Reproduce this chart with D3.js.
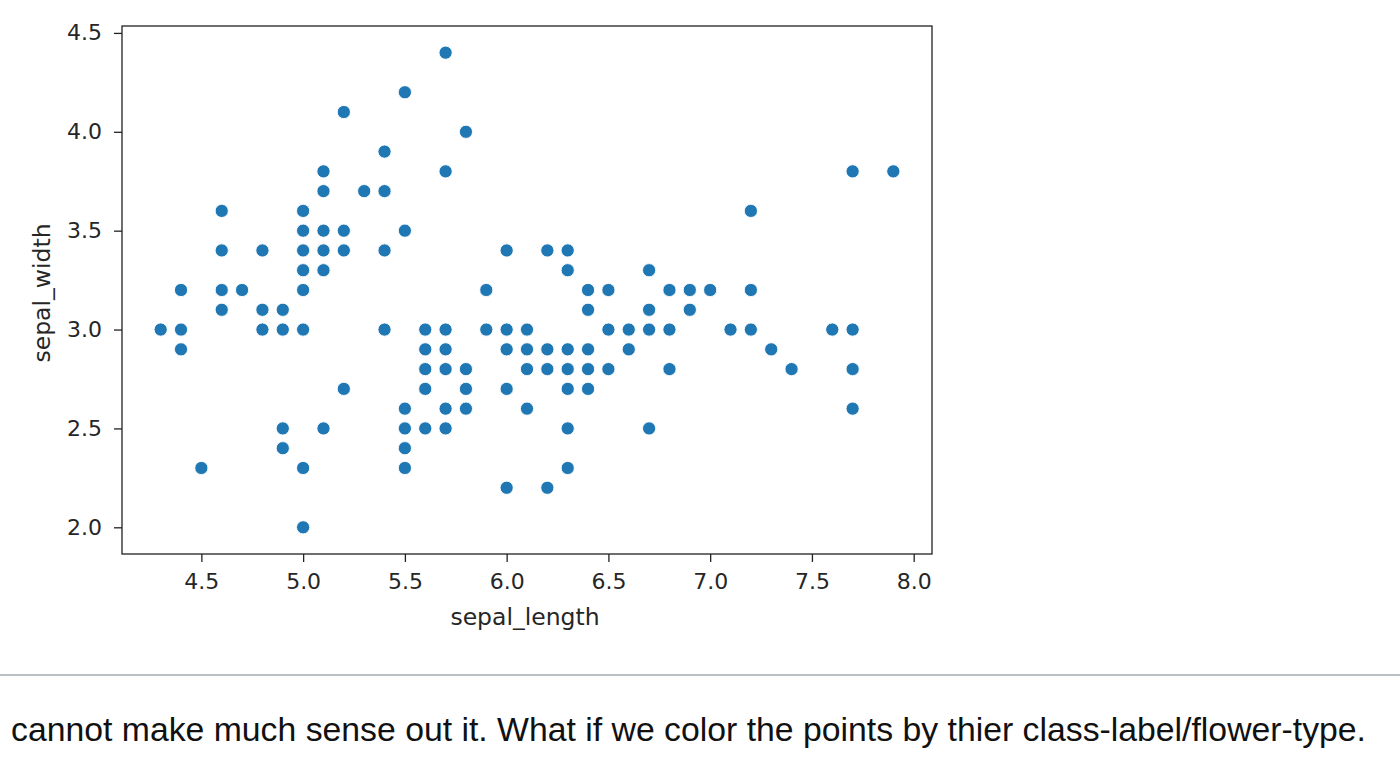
<!DOCTYPE html>
<html>
<head>
<meta charset="utf-8">
<script src="https://cdn.jsdelivr.net/npm/d3@7"></script>
<style>
	body { margin: 0; background: #fff; }
</style>
</head>
<body>
<div id="viz"></div>
<script>
// sepal lengths that appear in the plot (one column of dots each)
const lengths = [4.3, 4.4, 4.5, 4.6, 4.7, 4.8, 4.9, 5.0, 5.1, 5.2, 5.3, 5.4, 5.5, 5.6, 5.7, 5.8, 5.9, 6.0, 6.1, 6.2, 6.3, 6.4, 6.5, 6.6, 6.7, 6.8, 6.9, 7.0, 7.1, 7.2, 7.3, 7.4, 7.6, 7.7, 7.9];

// sepal widths, same order as lengths
const widths = [
	[3.0],
	[2.9, 3.0, 3.2],
	[2.3],
	[3.1, 3.2, 3.4, 3.6],
	[3.2],
	[3.0, 3.1, 3.4],
	[2.4, 2.5, 3.0, 3.1],
	[2.0, 2.3, 3.0, 3.2, 3.3, 3.4, 3.5, 3.6],
	[2.5, 3.3, 3.4, 3.5, 3.7, 3.8],
	[2.7, 3.4, 3.5, 4.1],
	[3.7],
	[3.0, 3.4, 3.7, 3.9],
	[2.3, 2.4, 2.5, 2.6, 3.5, 4.2],
	[2.5, 2.7, 2.8, 2.9, 3.0],
	[2.5, 2.6, 2.8, 2.9, 3.0, 3.8, 4.4],
	[2.6, 2.7, 2.8, 4.0],
	[3.0, 3.2],
	[2.2, 2.7, 2.9, 3.0, 3.4],
	[2.6, 2.8, 2.9, 3.0],
	[2.2, 2.8, 2.9, 3.4],
	[2.3, 2.5, 2.7, 2.8, 2.9, 3.3, 3.4],
	[2.7, 2.8, 2.9, 3.1, 3.2],
	[2.8, 3.0, 3.2],
	[2.9, 3.0],
	[2.5, 3.0, 3.1, 3.3],
	[2.8, 3.0, 3.2],
	[3.1, 3.2],
	[3.2],
	[3.0],
	[3.0, 3.2, 3.6],
	[2.9],
	[2.8],
	[3.0],
	[2.6, 2.8, 3.0, 3.8],
	[3.8]
];

const xTicks = [4.5, 5.0, 5.5, 6.0, 6.5, 7.0, 7.5, 8.0];
const yTicks = [2.0, 2.5, 3.0, 3.5, 4.0, 4.5];

const caption = "cannot make much sense out it. What if we color the points by thier class-label/flower-type.";

var points = [];
lengths.forEach((l, i) => widths[i].forEach((w) => points.push({ sepal_length: l, sepal_width: w })));

var W = 1400, H = 760;
// axes frame in page pixels
var frame = { left: 122, right: 932, top: 26, bottom: 554 };

var svg = d3
	.select("#viz")
	.append("svg")
	.attr("width", W)
	.attr("height", H);

var x = d3.scaleLinear().domain([4.11, 8.09]).range([frame.left, frame.right]);
var y = d3.scaleLinear().domain([1.865, 4.535]).range([frame.bottom, frame.top]);

var tickFont = "'DejaVu Sans', sans-serif";

// X axis
var gx = svg
	.append("g")
	.attr("transform", `translate(0, ${frame.bottom})`)
	.call(d3.axisBottom(x).tickValues(xTicks).tickFormat(d3.format(".1f")).tickSize(8).tickPadding(11).tickSizeOuter(0));

// Y axis
var gy = svg
	.append("g")
	.attr("transform", `translate(${frame.left}, 0)`)
	.call(d3.axisLeft(y).tickValues(yTicks).tickFormat(d3.format(".1f")).tickSize(8).tickPadding(12).tickSizeOuter(0));

[gx, gy].forEach((g) => {
	g.select(".domain").remove();
	g.selectAll(".tick line").attr("stroke", "#222").attr("stroke-width", 1.3);
	g.selectAll(".tick text")
		.attr("fill", "#262626")
		.style("font-family", tickFont)
		.style("font-size", "22px");
});

// frame (spines)
svg
	.append("rect")
	.attr("x", frame.left)
	.attr("y", frame.top)
	.attr("width", frame.right - frame.left)
	.attr("height", frame.bottom - frame.top)
	.attr("fill", "none")
	.attr("stroke", "#222")
	.attr("stroke-width", 1.3);

// the dots
svg
	.append("g")
	.selectAll("circle")
	.data(points)
	.join("circle")
	.attr("cx", (d) => x(d.sepal_length))
	.attr("cy", (d) => y(d.sepal_width))
	.attr("r", 6.6)
	.attr("fill", "#1f77b4")
	.attr("stroke", "#fff")
	.attr("stroke-width", 0.9);

// axis labels
svg
	.append("text")
	.attr("x", 525)
	.attr("y", 625)
	.attr("text-anchor", "middle")
	.attr("fill", "#262626")
	.style("font-family", tickFont)
	.style("font-size", "23.5px")
	.text("sepal_length");

svg
	.append("text")
	.attr("transform", `translate(50, 293) rotate(-90)`)
	.attr("text-anchor", "middle")
	.attr("fill", "#262626")
	.style("font-family", tickFont)
	.style("font-size", "23.5px")
	.text("sepal_width");

// separator line and caption underneath
svg
	.append("line")
	.attr("x1", 0)
	.attr("x2", W)
	.attr("y1", 675)
	.attr("y2", 675)
	.attr("stroke", "#a3acb3")
	.attr("stroke-width", 1.7);

svg
	.append("text")
	.attr("x", 11)
	.attr("y", 741)
	.attr("fill", "#111")
	.attr("textLength", 1355)
	.attr("lengthAdjust", "spacingAndGlyphs")
	.style("font-family", "'Liberation Sans', Arial, sans-serif")
	.style("font-size", "34px")
	.text(caption);
</script>
</body>
</html>
